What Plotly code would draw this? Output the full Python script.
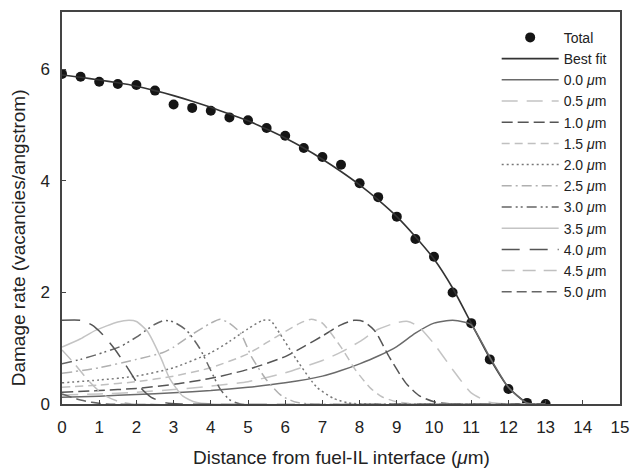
import plotly.graph_objects as go

# ---- data ----
total_x = [0, 0.5, 1, 1.5, 2, 2.5, 3, 3.5, 4, 4.5, 5, 5.5, 6, 6.5, 7, 7.5, 8, 8.5,
           9, 9.5, 10, 10.5, 11, 11.5, 12, 12.5, 13]
total_y = [5.92, 5.87, 5.78, 5.74, 5.72, 5.62, 5.37, 5.31, 5.26, 5.14, 5.09, 4.95,
           4.81, 4.59, 4.43, 4.29, 3.96, 3.71, 3.36, 2.96, 2.64, 2.00, 1.45, 0.80,
           0.27, 0.02, 0.0]

fit_x = [0, 0.5, 1, 1.5, 2, 2.5, 3, 3.5, 4, 4.5, 5, 5.5, 6, 6.5, 7, 7.5, 8, 8.5,
         9, 9.5, 10, 10.5, 11, 11.5, 12, 12.5, 13]
fit_y = [5.90, 5.86, 5.81, 5.76, 5.70, 5.62, 5.53, 5.43, 5.32, 5.20, 5.08, 4.93,
         4.77, 4.59, 4.39, 4.17, 3.93, 3.66, 3.36, 3.00, 2.60, 2.08, 1.45, 0.82,
         0.30, 0.02, 0.0]

c00_x = [0, 1, 2, 3, 4, 5, 6, 7, 7.5, 8, 8.5, 9, 9.5, 10, 10.5, 10.8, 11, 11.5, 12, 12.5, 13]
c00_y = [0.12, 0.14, 0.17, 0.20, 0.24, 0.30, 0.38, 0.50, 0.60, 0.72, 0.86, 1.03, 1.27,
         1.45, 1.50, 1.47, 1.42, 0.84, 0.30, 0.02, 0.0]

c05_x = [0, 1, 2, 3, 4, 5, 6, 7, 7.5, 8, 8.5, 9, 9.3, 9.6, 10, 10.5, 11, 11.5, 12, 13]
c05_y = [0.16, 0.18, 0.21, 0.26, 0.32, 0.40, 0.56, 0.78, 0.93, 1.12, 1.34, 1.46, 1.48,
         1.38, 1.08, 0.62, 0.20, 0.03, 0.0, 0.0]

c10_x = [0, 1, 2, 3, 4, 5, 6, 6.5, 7, 7.5, 7.85, 8.1, 8.4, 8.8, 9.25, 9.6, 10, 10.5, 13]
c10_y = [0.21, 0.24, 0.28, 0.35, 0.46, 0.62, 0.85, 1.03, 1.22, 1.42, 1.50, 1.48, 1.32,
         0.84, 0.37, 0.15, 0.04, 0.0, 0.0]

c15_x = [0, 1, 2, 3, 4, 5, 5.5, 6, 6.4, 6.7, 7, 7.5, 7.9, 8.3, 8.6, 9, 9.5, 13]
c15_y = [0.30, 0.34, 0.40, 0.50, 0.65, 0.90, 1.10, 1.30, 1.45, 1.52, 1.45, 1.02, 0.60,
         0.28, 0.13, 0.04, 0.0, 0.0]

c20_x = [0, 1, 2, 3, 4, 4.5, 5, 5.4, 5.6, 5.8, 6.3, 6.85, 7.3, 7.7, 8.1, 13]
c20_y = [0.38, 0.43, 0.50, 0.65, 0.92, 1.12, 1.35, 1.50, 1.50, 1.32, 0.80, 0.30, 0.10,
         0.02, 0.0, 0.0]

c25_x = [0, 1, 2, 2.7, 3, 3.5, 4, 4.25, 4.5, 4.8, 5.1, 5.5, 5.9, 6.3, 6.7, 13]
c25_y = [0.55, 0.65, 0.80, 0.92, 1.02, 1.25, 1.45, 1.52, 1.45, 1.27, 0.84, 0.43, 0.15,
         0.03, 0.0, 0.0]

c30_x = [0, 0.5, 1, 1.6, 2, 2.5, 2.75, 3.0, 3.35, 3.7, 4.0, 4.25, 4.5, 4.8, 13]
c30_y = [0.72, 0.80, 0.90, 1.04, 1.20, 1.43, 1.50, 1.47, 1.32, 1.00, 0.60, 0.27, 0.08,
         0.0, 0.0]

c35_x = [0, 0.5, 0.9, 1.5, 1.8, 2.0, 2.3, 2.65, 2.9, 3.25, 3.6, 4.0, 13]
c35_y = [1.02, 1.17, 1.32, 1.47, 1.50, 1.48, 1.30, 0.84, 0.45, 0.14, 0.03, 0.0, 0.0]

c40_x = [0, 0.5, 0.8, 1.06, 1.4, 1.75, 2.1, 2.4, 2.8, 3.2, 13]
c40_y = [1.50, 1.50, 1.42, 1.27, 1.00, 0.66, 0.30, 0.12, 0.02, 0.0, 0.0]

c45_x = [0, 0.3, 0.7, 1.1, 1.5, 1.9, 13]
c45_y = [0.97, 0.75, 0.43, 0.17, 0.05, 0.0, 0.0]

c50_x = [0, 0.4, 0.8, 1.2, 13]
c50_y = [0.18, 0.09, 0.03, 0.0, 0.0]

series_names = ["0.0 <i>μ</i>m", "0.5 <i>μ</i>m", "1.0 <i>μ</i>m", "1.5 <i>μ</i>m",
                "2.0 <i>μ</i>m", "2.5 <i>μ</i>m", "3.0 <i>μ</i>m", "3.5 <i>μ</i>m",
                "4.0 <i>μ</i>m", "4.5 <i>μ</i>m", "5.0 <i>μ</i>m"]
series_x = [c00_x, c05_x, c10_x, c15_x, c20_x, c25_x, c30_x, c35_x, c40_x, c45_x, c50_x]
series_y = [c00_y, c05_y, c10_y, c15_y, c20_y, c25_y, c30_y, c35_y, c40_y, c45_y, c50_y]

x_ticks = list(range(0, 16))
y_ticks = [0, 2, 4, 6]

# ---- styles ----
styles = [
    dict(color="#6a6a6a", dash="solid"),
    dict(color="#c4c4c4", dash="16px,9px"),
    dict(color="#555555", dash="11px,5px"),
    dict(color="#c0c0c0", dash="8px,5px"),
    dict(color="#777777", dash="2px,3px"),
    dict(color="#b0b0b0", dash="10px,4px,2px,4px"),
    dict(color="#666666", dash="10px,4px,2px,3px,2px,4px"),
    dict(color="#c4c4c4", dash="solid"),
    dict(color="#555555", dash="18px,10px"),
    dict(color="#c0c0c0", dash="13px,8px"),
    dict(color="#666666", dash="10px,5px"),
]

FONT = "Liberation Sans, Arial, sans-serif"

fig = go.Figure()
fig.add_trace(go.Scatter(x=total_x, y=total_y, mode="markers", name="Total",
                         marker=dict(color="#151515", size=10)))
fig.add_trace(go.Scatter(x=fit_x, y=fit_y, mode="lines", name="Best fit",
                         line=dict(color="#333333", width=1.6, shape="spline", smoothing=0.6)))
for name, xs, ys, st in zip(series_names, series_x, series_y, styles):
    fig.add_trace(go.Scatter(x=xs, y=ys, mode="lines", name=name,
                             line=dict(color=st["color"], dash=st["dash"], width=1.5,
                                       shape="spline", smoothing=0.6)))

fig.update_layout(
    width=639, height=472,
    margin=dict(l=62, r=12, t=10, b=68),
    paper_bgcolor="white", plot_bgcolor="white",
    font=dict(family=FONT, size=17, color="#222222"),
    showlegend=True,
    legend=dict(x=0.779, y=0.975, xanchor="left", yanchor="top",
                bgcolor="rgba(0,0,0,0)", font=dict(size=14, family=FONT),
                tracegroupgap=0, itemwidth=57),
    xaxis=dict(range=[0, 15], tickvals=x_ticks, ticktext=[str(v) for v in x_ticks],
               showgrid=False, zeroline=False, showline=True, linecolor="#444444",
               linewidth=1.5, mirror=True, ticks="inside", ticklen=4, tickcolor="#444444",
               ticklabelstandoff=7, tickfont=dict(size=17)),
    yaxis=dict(range=[0, 7.03], tickvals=y_ticks, ticktext=[str(v) for v in y_ticks],
               showgrid=False, zeroline=False, showline=True, linecolor="#444444",
               linewidth=1.5, mirror=True, ticks="inside", ticklen=4, tickcolor="#444444",
               ticklabelstandoff=7, tickfont=dict(size=17)),
    annotations=[
        dict(text="Distance from fuel-IL interface (<i>μ</i>m)", xref="paper", yref="paper",
             x=0.5, y=-0.137, showarrow=False, xanchor="center", yanchor="middle",
             font=dict(size=19, family=FONT)),
        dict(text="Damage rate (vacancies/angstrom)", xref="paper", yref="paper",
             x=-0.078, y=0.424, showarrow=False, xanchor="center", yanchor="middle",
             textangle=-90, font=dict(size=19, family=FONT)),
    ],
)

fig.write_html("out.html")
